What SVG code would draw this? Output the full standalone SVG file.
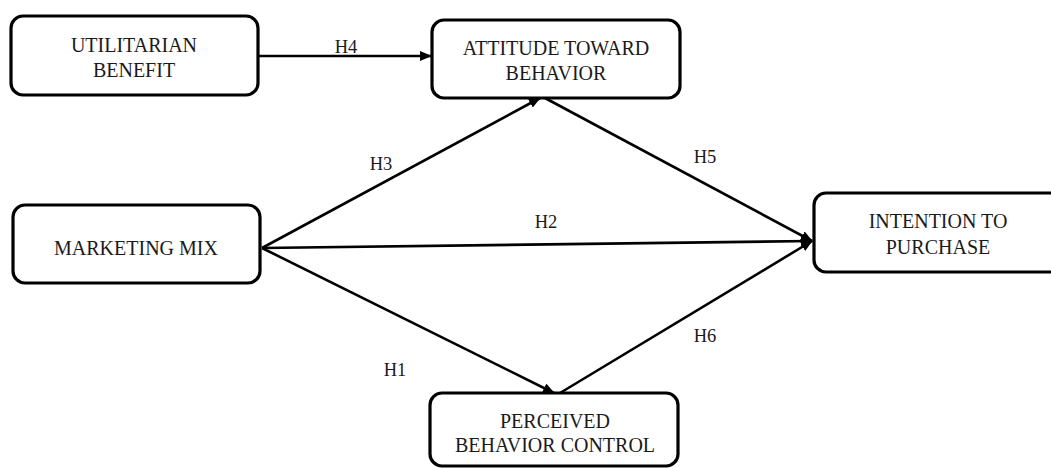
<svg xmlns="http://www.w3.org/2000/svg" width="1051" height="468" viewBox="0 0 1051 468">
<style>
.box{fill:#fff;stroke:#000;stroke-width:3.2}
.t{font-family:"Liberation Serif",serif;font-size:20px;fill:#1a1a1a;text-anchor:middle}
.h{font-family:"Liberation Serif",serif;font-size:18.5px;fill:#1a1a1a;text-anchor:middle}
.ln{stroke:#000;stroke-width:2.6;fill:none}
</style>
<defs>
<marker id="arr" viewBox="0 0 12 10" refX="11" refY="5" markerWidth="12" markerHeight="10" markerUnits="userSpaceOnUse" orient="auto">
<path d="M0,0 L12,5 L0,10 Z" fill="#000"/>
</marker>
</defs>
<rect width="1051" height="468" fill="#fff"/>
<g id="connectors">
<line class="ln" x1="258" y1="56" x2="431" y2="56" marker-end="url(#arr)"/>
<line class="ln" x1="262" y1="248" x2="540" y2="98" marker-end="url(#arr)"/>
<line class="ln" x1="262" y1="248" x2="812" y2="241" marker-end="url(#arr)"/>
<line class="ln" x1="262" y1="248" x2="554" y2="393" marker-end="url(#arr)"/>
<line class="ln" x1="545" y1="98" x2="812" y2="241" marker-end="url(#arr)"/>
<line class="ln" x1="560" y1="393" x2="812" y2="241" marker-end="url(#arr)"/>
<text class="h" x="346" y="53">H4</text>
<text class="h" x="381" y="170">H3</text>
<text class="h" x="546" y="228">H2</text>
<text class="h" x="705" y="163">H5</text>
<text class="h" x="395" y="376">H1</text>
<text class="h" x="705" y="342">H6</text>
</g>
<g id="utilitarian">
<rect class="box" x="11" y="16" width="247" height="79" rx="12"/>
<text class="t" x="134" y="52">UTILITARIAN</text>
<text class="t" x="134" y="77">BENEFIT</text>
</g>
<g id="attitude">
<rect class="box" x="432" y="20" width="248" height="78" rx="12"/>
<text class="t" x="556" y="55">ATTITUDE TOWARD</text>
<text class="t" x="556" y="80">BEHAVIOR</text>
</g>
<g id="marketing">
<rect class="box" x="13" y="205" width="247" height="78" rx="12"/>
<text class="t" x="136" y="255">MARKETING MIX</text>
</g>
<g id="intention">
<rect class="box" x="814" y="193" width="248" height="79" rx="12"/>
<text class="t" x="938" y="228">INTENTION TO</text>
<text class="t" x="938" y="254">PURCHASE</text>
</g>
<g id="perceived">
<rect class="box" x="430" y="393" width="248" height="73" rx="12"/>
<text class="t" x="555" y="428">PERCEIVED</text>
<text class="t" x="555" y="452">BEHAVIOR CONTROL</text>
</g>
</svg>
